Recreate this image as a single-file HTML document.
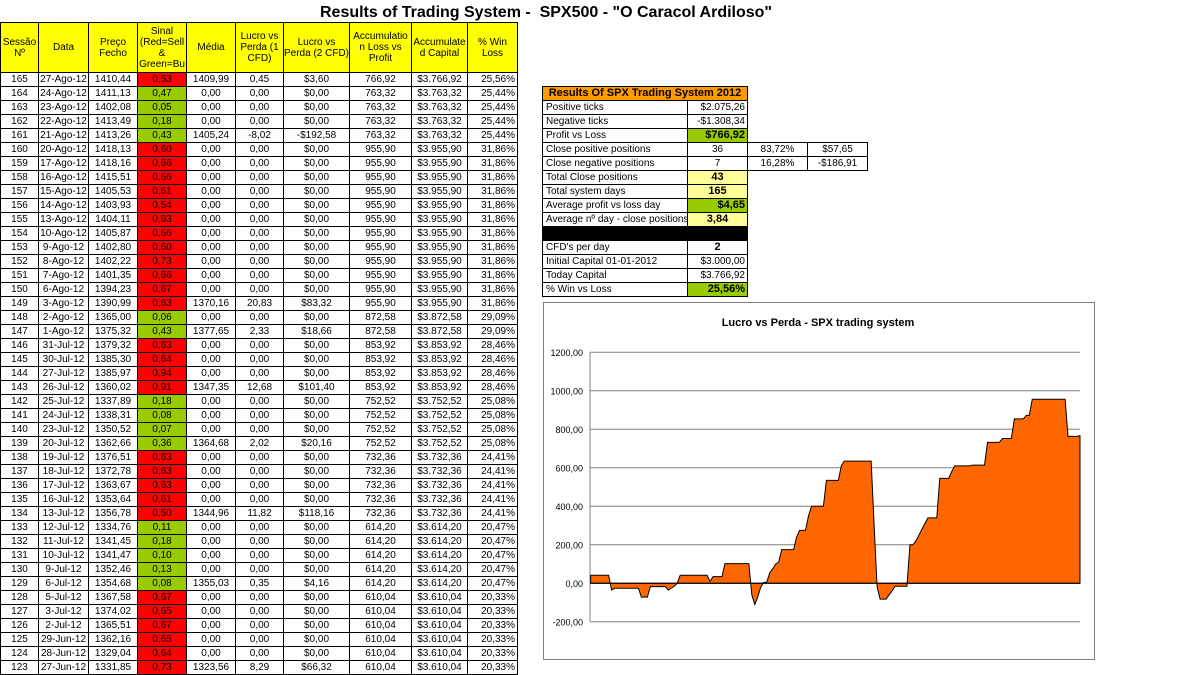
<!DOCTYPE html>
<html><head><meta charset="utf-8">
<style>
body{margin:0;width:1204px;height:675px;background:#fff;position:relative;overflow:hidden;font-family:"Liberation Sans",Arial,sans-serif;font-size:10px;color:#000}
.c{position:absolute;box-sizing:border-box;border:1px solid #000;display:flex;align-items:center;justify-content:center;white-space:nowrap;overflow:hidden;line-height:11px}
.h{background:#ffff00;text-align:center;white-space:normal;font-size:10px}
#title{position:absolute;left:0;width:1092px;top:4px;text-align:center;font-weight:bold;font-size:16px}
</style></head><body>
<div id="title">Results of Trading System -&nbsp; SPX500 - "O Caracol Ardiloso"</div>
<div id="tbl"></div>
<div id="sum"></div>
<div style="position:absolute;left:543px;top:302px;width:552px;height:358px;box-sizing:border-box;border:1px solid #808080"></div>
<svg id="chart" style="position:absolute;left:0;top:0" width="1204" height="675"></svg>
<script>
const sessions=[165,164,163,162,161,160,159,158,157,156,155,154,153,152,151,150,149,148,147,146,145,144,143,142,141,140,139,138,137,136,135,134,133,132,131,130,129,128,127,126,125,124,123];
const dates=["27-Ago-12","24-Ago-12","23-Ago-12","22-Ago-12","21-Ago-12","20-Ago-12","17-Ago-12","16-Ago-12","15-Ago-12","14-Ago-12","13-Ago-12","10-Ago-12","9-Ago-12","8-Ago-12","7-Ago-12","6-Ago-12","3-Ago-12","2-Ago-12","1-Ago-12","31-Jul-12","30-Jul-12","27-Jul-12","26-Jul-12","25-Jul-12","24-Jul-12","23-Jul-12","20-Jul-12","19-Jul-12","18-Jul-12","17-Jul-12","16-Jul-12","13-Jul-12","12-Jul-12","11-Jul-12","10-Jul-12","9-Jul-12","6-Jul-12","5-Jul-12","3-Jul-12","2-Jul-12","29-Jun-12","28-Jun-12","27-Jun-12"];
const prices=["1410,44","1411,13","1402,08","1413,49","1413,26","1418,13","1418,16","1415,51","1405,53","1403,93","1404,11","1405,87","1402,80","1402,22","1401,35","1394,23","1390,99","1365,00","1375,32","1379,32","1385,30","1385,97","1360,02","1337,89","1338,31","1350,52","1362,66","1376,51","1372,78","1363,67","1353,64","1356,78","1334,76","1341,45","1341,47","1352,46","1354,68","1367,58","1374,02","1365,51","1362,16","1329,04","1331,85"];
const signals=["0,53","0,47","0,05","0,18","0,43","0,60","0,66","0,66","0,61","0,54","0,63","0,66","0,60","0,73","0,66","0,67","0,63","0,06","0,43","0,63","0,64","0,94","0,91","0,18","0,08","0,07","0,36","0,63","0,63","0,63","0,61","0,50","0,11","0,18","0,10","0,13","0,08","0,67","0,65","0,67","0,65","0,64","0,73"];
const signalColor="RGGGGRRRRRRRRRRRRGGRRRRGGGGRRRRRGGGGGRRRRRR";
const medias={0:"1409,99",4:"1405,24",16:"1370,16",18:"1377,65",22:"1347,35",26:"1364,68",31:"1344,96",36:"1355,03",42:"1323,56"};
const lucro1={0:"0,45",4:"-8,02",16:"20,83",18:"2,33",22:"12,68",26:"2,02",31:"11,82",36:"0,35",42:"8,29"};
const lucro2={0:"$3,60",4:"-$192,58",16:"$83,32",18:"$18,66",22:"$101,40",26:"$20,16",31:"$118,16",36:"$4,16",42:"$66,32"};
const accum=["766,92","763,32","763,32","763,32","763,32","955,90","955,90","955,90","955,90","955,90","955,90","955,90","955,90","955,90","955,90","955,90","955,90","872,58","872,58","853,92","853,92","853,92","853,92","752,52","752,52","752,52","752,52","732,36","732,36","732,36","732,36","732,36","614,20","614,20","614,20","614,20","614,20","610,04","610,04","610,04","610,04","610,04","610,04"];
const winPct=["25,56%","25,44%","25,44%","25,44%","25,44%","31,86%","31,86%","31,86%","31,86%","31,86%","31,86%","31,86%","31,86%","31,86%","31,86%","31,86%","31,86%","29,09%","29,09%","28,46%","28,46%","28,46%","28,46%","25,08%","25,08%","25,08%","25,08%","24,41%","24,41%","24,41%","24,41%","24,41%","20,47%","20,47%","20,47%","20,47%","20,47%","20,33%","20,33%","20,33%","20,33%","20,33%","20,33%"];
const headers=["Sessão Nº","Data","Preço Fecho","Sinal (Red=Sell & Green=Bu","Média","Lucro vs Perda (1 CFD)","Lucro vs Perda (2 CFD)","Accumulatio n Loss vs Profit","Accumulate d Capital","% Win Loss"];
const colX=[0,38,88,137,186,235,283,349,411,467,517];
const tbl=document.getElementById('tbl');
function cell(parent,x,y,w,h,txt,cls,bg){
  const d=document.createElement('div');
  d.className='c '+(cls||'');
  d.style.cssText+=`left:${x}px;top:${y}px;width:${w+1}px;height:${h+1}px;`+(bg?`background:${bg};`:'');
  d.textContent=txt;
  parent.appendChild(d);return d;
}
headers.forEach((t,i)=>{
  const d=cell(tbl,colX[i],22,colX[i+1]-colX[i],50,t,'h');
  
  
});
sessions.forEach((s,r)=>{
  const y=72+r*14;
  const m=(k)=>k in medias;
  const vals=[String(s),dates[r],prices[r],signals[r],medias[r]||"0,00",lucro1[r]||"0,00",lucro2[r]||"$0,00",accum[r],"$3."+accum[r].replace(/^(\d)/,'').length>0?"":"",winPct[r]];
  const cap=(3000+parseFloat(accum[r].replace(',','.'))).toFixed(2).replace('.',',');
  vals[8]="$"+cap[0]+"."+cap.slice(1);
  vals.forEach((v,i)=>{
    let bg=null;
    if(i===3)bg=signalColor[r]==='R'?'#ff0000':'#99cc00';
    const d=cell(tbl,colX[i],y,colX[i+1]-colX[i],14,v,'',bg);
    if(i===9){d.style.justifyContent='flex-end';d.style.paddingRight='2px';}
    
    
  });
});
// summary
const sum=document.getElementById('sum');
const sLabels=["Positive ticks","Negative ticks","Profit vs Loss","Close positive positions","Close negative positions","Total Close positions","Total system days","Average profit vs loss day","Average nº day - close positions","","CFD's per day","Initial Capital 01-01-2012","Today Capital","% Win vs Loss"];
const sValues=["$2.075,26","-$1.308,34","$766,92","36","7","43","165","$4,65","3,84","","2","$3.000,00","$3.766,92","25,56%"];
const sStyle=["r","r","gb","c","c","yb","yb","gb","yb","k","cb","r","r","gb"];
const hd=cell(sum,542,86,205,14,"Results Of SPX Trading System 2012",'', '#ff9900');
hd.style.fontWeight='bold';hd.style.fontSize='11px';


sLabels.forEach((l,i)=>{
  const y=100+i*14;const st=sStyle[i];
  if(st==='k'){const d=cell(sum,542,y,205,14,'','', '#000');
    
    return;}
  const a=cell(sum,542,y,145,14,l);
  a.style.justifyContent='flex-start';a.style.paddingLeft='3px';
  
  
  let bg=st==='gb'?'#99cc00':st==='yb'?'#ffff99':null;
  const b=cell(sum,687,y,60,14,sValues[i],'',bg);
  if(st==='r'||st==='gb'){b.style.justifyContent='flex-end';b.style.paddingRight='2px';}
  if(st.endsWith('b'))b.style.fontWeight='bold';
  if(st==='gb'||st==='yb'||st==='cb')b.style.fontSize='11px';
  
  
});
[["83,72%","$57,65"],["16,28%","-$186,91"]].forEach((p,j)=>{
  const y=100+(3+j)*14;
  const a=cell(sum,747,y,60,14,p[0]);
  
  
  const b=cell(sum,807,y,60,14,p[1]);
  
  
});
</script>
<script>
const chartValues=[42,42,42,42,42,42,42,-35,-26,-26,-26,-26,-26,-26,-26,-26,-26,-72,-72,-72,-17,-17,-17,-17,-17,-17,-35,-25,-15,0,42,42,42,42,42,42,42,42,42,42,10,35,35,35,35,102,102,102,102,102,102,102,102,102,-60,-110,-70,-20,5,5,55,75,100,110,175,175,175,175,175,240,275,275,275,350,400,400,400,400,400,535,535,535,535,535,610,635,635,635,635,635,635,635,635,635,635,300,-20,-82,-82,-82,-60,-40,-15,-15,-15,-15,-15,200,200,220,250,280,310,340,340,340,340,545,545,545,545,580,610.04,610.04,610.04,610.04,610.04,610.04,614.2,614.2,614.2,614.2,614.2,732.36,732.36,732.36,732.36,732.36,752.52,752.52,752.52,752.52,853.92,853.92,853.92,853.92,872.58,872.58,955.9,955.9,955.9,955.9,955.9,955.9,955.9,955.9,955.9,955.9,955.9,955.9,763.32,763.32,763.32,763.32,766.92];
const yTicks=[1200,1000,800,600,400,200,0,-200];
const yTickLabels=["1200,00","1000,00","800,00","600,00","400,00","200,00","0,00","-200,00"];
const chartTitle="Lucro vs Perda - SPX trading system";
const NS='http://www.w3.org/2000/svg';
const svg=document.getElementById('chart');
const X0=590.7,X1=1080,Y0=583.3,PX=38.5/200;
const xs=i=>X0+i*(X1-X0)/(chartValues.length-1);
const ys=v=>Y0-v*PX;
function el(t,a){const e=document.createElementNS(NS,t);for(const k in a)e.setAttribute(k,a[k]);svg.appendChild(e);return e;}
const t=el('text',{x:818,y:326,'text-anchor':'middle','font-size':'11','font-weight':'bold','font-family':'Liberation Sans, Arial, sans-serif'});
t.textContent=chartTitle;


yTicks.forEach((v,i)=>{
  const g=el('line',{x1:590,x2:1080,y1:ys(v),y2:ys(v),stroke:'#808080','stroke-width':1});
  
  
  const l=el('text',{x:583,y:ys(v)+3.5,'text-anchor':'end','font-size':'9','font-family':'Liberation Sans, Arial, sans-serif'});
  l.textContent=yTickLabels[i];
  
  
});
const ax=el('line',{x1:590,x2:590,y1:ys(1200),y2:ys(-200),stroke:'#808080'});


let d=`M${xs(0)},${ys(0)}`;
chartValues.forEach((v,i)=>{d+=` L${xs(i)},${ys(v)}`;});
d+=` L${xs(chartValues.length-1)},${ys(0)} Z`;
const area=el('path',{d:d,fill:'#ff6600',stroke:'#000','stroke-width':1});


const base=el('line',{x1:X0,x2:X1,y1:Y0,y2:Y0,stroke:'#000','stroke-width':1});


</script>
</body></html>
